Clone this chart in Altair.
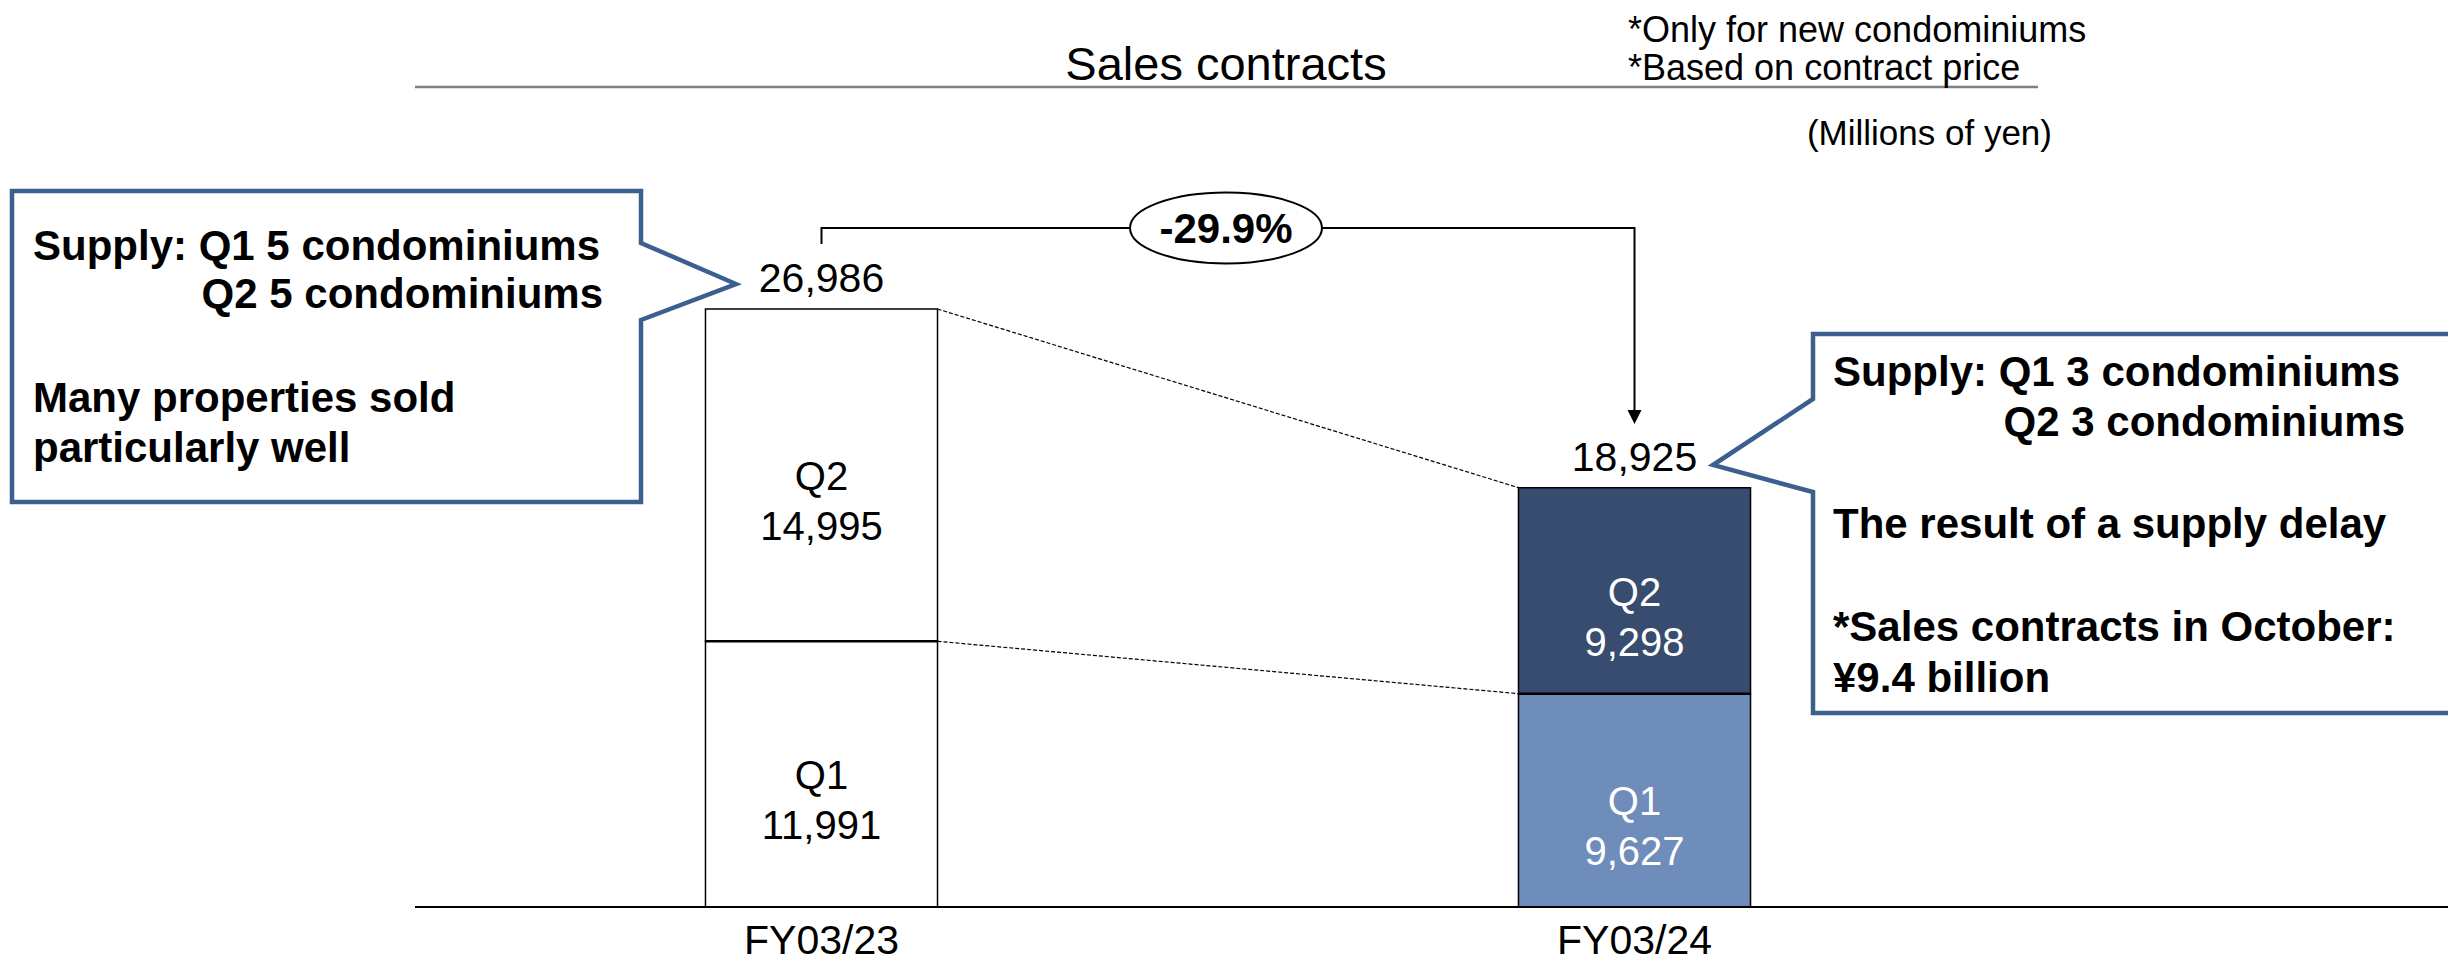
import altair as alt
import pandas as pd

# ---- data ----
categories = ["FY03/23", "FY03/24"]
q1_values = [11991, 9627]
q2_values = [14995, 9298]
totals = [26986, 18925]
change_label = "-29.9%"

q1_fill = ["#FFFFFF", "#6E8DBA"]
q2_fill = ["#FFFFFF", "#374C6E"]
text_col = ["#000000", "#FFFFFF"]

FONT = "Liberation Sans"
W, H = 2440, 955

rows = []
for i, c in enumerate(categories):
    rows.append(dict(cat=c, q="Q1", start=0, end=q1_values[i], fill=q1_fill[i], tc=text_col[i],
                     label=f"Q1\n{q1_values[i]:,}", mid=q1_values[i] / 2))
    rows.append(dict(cat=c, q="Q2", start=q1_values[i], end=q1_values[i] + q2_values[i], fill=q2_fill[i],
                     tc=text_col[i], label=f"Q2\n{q2_values[i]:,}", mid=q1_values[i] + q2_values[i] / 2))
seg = pd.DataFrame(rows)
tot = pd.DataFrame(dict(cat=categories, total=totals, label=[f"{t:,}" for t in totals], zero=[0, 0],
                        q1=q1_values))
conn = pd.DataFrame(dict(c1=[categories[0]] * 2, c2=[categories[1]] * 2,
                         y1=[q1_values[0], totals[0]], y2=[q1_values[1], totals[1]]))
pair = pd.DataFrame(dict(c1=[categories[0]], c2=[categories[1]]))

xs = alt.Scale(domain=categories, paddingInner=0.7146, paddingOuter=0.8579)
ys = alt.Scale(domain=[-2527, 40571], nice=False, zero=False)
xaxis = alt.Axis(offset=-56, domain=False, ticks=False, labelFontSize=41, labelFont=FONT,
                 labelColor="black", labelPadding=46, labelBaseline="alphabetic",
                 labelAngle=0, title=None, grid=False)


def X(field, **kw):
    return alt.X(field, scale=xs, sort=categories, axis=xaxis, **kw)


def Y(field):
    return alt.Y(field, scale=ys, axis=None)


base = alt.Chart(seg)

bars = base.mark_bar(stroke="black", strokeWidth=1.5).encode(
    x=X("cat:N"),
    y=Y("start:Q"),
    y2="end:Q",
    fill=alt.Fill("fill:N", scale=None),
)

dividers = alt.Chart(tot).mark_rule(color="black", strokeWidth=2.5).encode(
    x=X("cat:N", bandPosition=0),
    x2=alt.X2("cat:N", bandPosition=1),
    y=Y("q1:Q"),
)

seg_text = base.mark_text(fontSize=40, font=FONT, lineBreak="\n", lineHeight=50, baseline="middle", dy=3).encode(
    x=X("cat:N"),
    y=Y("mid:Q"),
    text="label:N",
    color=alt.Color("tc:N", scale=None),
)

tot_text = alt.Chart(tot).mark_text(fontSize=41, font=FONT, baseline="middle", dy=-29, color="black").encode(
    x=X("cat:N"),
    y=Y("total:Q"),
    text="label:N",
)

connectors = alt.Chart(conn).mark_rule(color="black", strokeWidth=1.2, strokeDash=[4, 2]).encode(
    x=X("c1:N", bandPosition=1),
    x2=alt.X2("c2:N", bandPosition=0),
    y=Y("y1:Q"),
    y2="y2:Q",
)

baseline_rule = alt.Chart(tot).mark_rule(color="black", strokeWidth=2).encode(
    x=alt.value(407), x2=alt.value(W), y=Y("zero:Q")
)

# bracket with change
br_h = alt.Chart(pair).mark_rule(color="black", strokeWidth=2).encode(
    x=X("c1:N", bandPosition=0.5),
    x2=alt.X2("c2:N", bandPosition=0.5),
    y=alt.value(220),
)
br_l = alt.Chart(pair).mark_rule(color="black", strokeWidth=2).encode(
    x=X("c1:N", bandPosition=0.5), y=alt.value(219), y2=alt.value(236)
)
br_r = alt.Chart(pair).mark_rule(color="black", strokeWidth=2).encode(
    x=X("c2:N", bandPosition=0.5), y=alt.value(219), y2=alt.value(404)
)
arrow = alt.Chart(pair).mark_point(shape="M-1,-1L1,-1L0,1Z", filled=True, color="black", size=196, opacity=1).encode(
    x=X("c2:N", bandPosition=0.5), y=alt.value(409)
)
ellipse = alt.Chart(pair).mark_point(
    shape="M-1,0A1,0.37 0 1,1 1,0A1,0.37 0 1,1 -1,0Z", size=36864, fill="white", fillOpacity=1,
    stroke="black", strokeWidth=2, opacity=1, filled=False
).encode(x=alt.value(1218), y=alt.value(220))
chg = alt.Chart(pair).mark_text(text=change_label, fontSize=42, fontWeight="bold", font=FONT,
                                baseline="middle", color="black").encode(x=alt.value(1218), y=alt.value(222))

# callouts
c1_path = "M4,183L633,183L633,235L728,276L633,312L633,494L4,494Z"
c2_path = "M1805,326L2480,326L2480,705L1805,705L1805,484L1705,457L1805,391Z"


def callout(path):
    return alt.Chart(pair).mark_point(shape=path, size=4, fill="white", fillOpacity=1, stroke="#3B6090",
                                      strokeWidth=4.5, strokeJoin="miter", opacity=1, filled=False).encode(
        x=alt.value(0), y=alt.value(0))


texts = [
    ("Sales contracts", 1218, 72, "center", 47, "normal"),
    ("*Only for new condominiums", 1620, 34, "left", 36, "normal"),
    ("*Based on contract price", 1620, 72, "left", 36, "normal"),
    ("(Millions of yen)", 2044, 137, "right", 35, "normal"),
    ("Supply: Q1 5 condominiums", 25, 252, "left", 42, "bold"),
    ("Q2 5 condominiums", 595, 300, "right", 42, "bold"),
    ("Many properties sold", 25, 404, "left", 42, "bold"),
    ("particularly well", 25, 454, "left", 42, "bold"),
    ("Supply: Q1 3 condominiums", 1825, 378, "left", 42, "bold"),
    ("Q2 3 condominiums", 2397, 428, "right", 42, "bold"),
    ("The result of a supply delay", 1825, 530, "left", 42, "bold"),
    ("*Sales contracts in October:", 1825, 633, "left", 42, "bold"),
    ("¥9.4 billion", 1825, 684, "left", 42, "bold"),
]
text_layers = [
    alt.Chart(pair).mark_text(text=t, align=a, baseline="alphabetic", fontSize=s, fontWeight=w, font=FONT,
                              color="black").encode(x=alt.value(x), y=alt.value(y))
    for (t, x, y, a, s, w) in texts
]

title_rule = alt.Chart(pair).mark_rule(color="#7F7F7F", strokeWidth=2.5).encode(
    x=alt.value(407), x2=alt.value(2030), y=alt.value(79)
)

chart = alt.layer(
    title_rule, callout(c1_path), callout(c2_path), connectors, bars, dividers, baseline_rule, seg_text,
    tot_text, br_h, br_l, br_r, arrow, ellipse, chg, *text_layers
).properties(
    width=W, height=H, padding=0, autosize=alt.AutoSizeParams(type="none"), background="white"
).configure_view(stroke=None)

chart.save("out.html", embed_options={"renderer": "svg", "actions": False})
